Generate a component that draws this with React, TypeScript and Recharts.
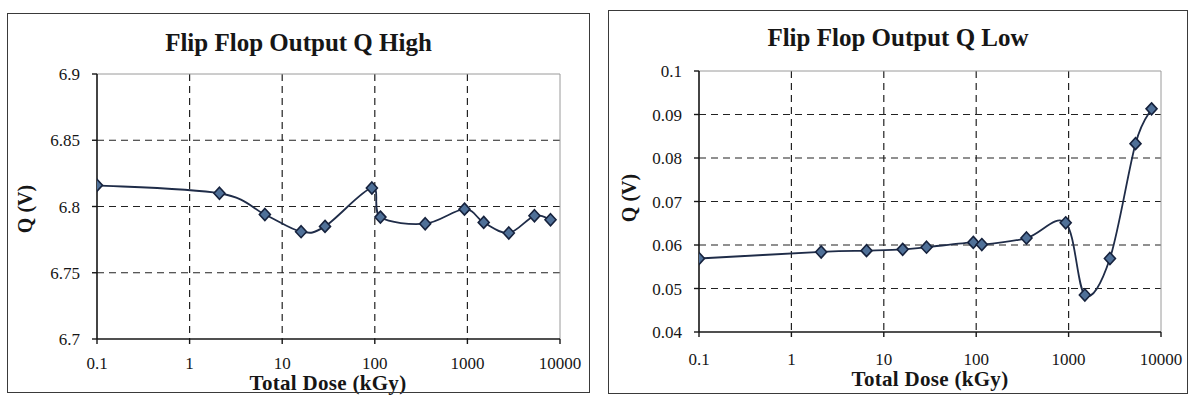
import React from 'react';
import { LineChart, Line, XAxis, YAxis, CartesianGrid, ReferenceLine } from 'recharts';

// Total dose steps (kGy) shared by both measurements
const doses = [0.1, 2.1, 6.5, 16, 29, 93, 115, 350, 930, 1500, 2800, 5300, 7900];
// Flip-flop Q output when latched high (V)
const qHigh = [6.816, 6.81, 6.794, 6.781, 6.785, 6.814, 6.792, 6.787, 6.798, 6.788, 6.78, 6.793, 6.79];
// Flip-flop Q output when latched low (V)
const qLow = [0.0569, 0.0584, 0.0587, 0.059, 0.0595, 0.0606, 0.0601, 0.0616, 0.0651, 0.0485, 0.0569, 0.0833, 0.0913];

const doseTicks = [0.1, 1, 10, 100, 1000, 10000];
const highTicks = [6.7, 6.75, 6.8, 6.85, 6.9];
const lowTicks = [0.04, 0.05, 0.06, 0.07, 0.08, 0.09, 0.1];

const highData = doses.map((d, i) => ({ dose: d, q: qHigh[i] }));
const lowData = doses.map((d, i) => ({ dose: d, q: qLow[i] }));

const FONT = '"Liberation Serif", "Times New Roman", serif';
const INK = '#161616';
const LINE = '#1f2c48';

// Smoothed line through every point (Catmull-Rom segments as cubic Beziers)
const smoothCurve = (context: any) => {
  let pts: number[][] = [];
  return {
    areaStart() {},
    areaEnd() {},
    lineStart() {
      pts = [];
    },
    point(x: number, y: number) {
      pts.push([+x, +y]);
    },
    lineEnd() {
      const n = pts.length;
      if (!n) return;
      context.moveTo(pts[0][0], pts[0][1]);
      for (let i = 0; i < n - 1; i++) {
        const p0 = pts[Math.max(i - 1, 0)];
        const p1 = pts[i];
        const p2 = pts[i + 1];
        const p3 = pts[Math.min(i + 2, n - 1)];
        context.bezierCurveTo(
          p1[0] + (p2[0] - p0[0]) / 6,
          p1[1] + (p2[1] - p0[1]) / 6,
          p2[0] - (p3[0] - p1[0]) / 6,
          p2[1] - (p3[1] - p1[1]) / 6,
          p2[0],
          p2[1]
        );
      }
    },
  };
};

const diamond = (p: any) => {
  const { cx, cy, index } = p;
  if (cx == null || cy == null) return <g key={index} />;
  const w = 5.5;
  const h = 6;
  return (
    <path
      key={index}
      d={`M${cx},${cy - h}L${cx + w},${cy}L${cx},${cy + h}L${cx - w},${cy}Z`}
      fill="#4f7098"
      stroke="#16223d"
      strokeWidth={1.6}
    />
  );
};

// Axis tick labels in the serif face
const XTick = (p: any) => (
  <text
    x={p.x}
    y={p.y}
    dy="0.71em"
    textAnchor="middle"
    fill={INK}
    style={{ fontFamily: FONT, fontSize: 17 }}
  >
    {String(p.payload.value)}
  </text>
);

const YTick = (p: any) => (
  <text
    x={p.x}
    y={p.y}
    dy="0.355em"
    textAnchor="end"
    fill={INK}
    style={{ fontFamily: FONT, fontSize: 17 }}
  >
    {String(p.payload.value)}
  </text>
);

type PanelProps = {
  left: number;
  top: number;
  width: number;
  height: number;
  title: string;
  titleY: number;
  data: { dose: number; q: number }[];
  yTicks: number[];
  yDomain: [number, number];
  yAxisWidth: number;
  marginTop: number;
  marginRight: number;
  xAxisHeight: number;
  xTickMargin: number;
  yLabelX: number;
  yLabelY: number;
  xLabelY: number;
  xLabelX: number;
};

const Panel = (p: PanelProps) => {
  const innerY = p.yTicks.slice(1, -1);
  const innerX = doseTicks.slice(1, -1);
  return (
    <div
      style={{
        position: 'absolute',
        left: p.left,
        top: p.top,
        width: p.width,
        height: p.height,
        background: '#fff',
        fontFamily: FONT,
      }}
    >
      <LineChart
        width={p.width}
        height={p.height}
        data={p.data}
        margin={{ top: p.marginTop, right: p.marginRight, left: 0, bottom: 0 }}
      >
        <CartesianGrid
          stroke="#222"
          strokeWidth={1.2}
          strokeDasharray="7 5"
          horizontalValues={innerY}
          verticalValues={innerX}
        />
        <ReferenceLine y={p.yDomain[1]} stroke="#9a9a9a" strokeWidth={1} />
        <ReferenceLine x={10000} stroke="#9a9a9a" strokeWidth={1} />
        <XAxis
          dataKey="dose"
          type="number"
          scale="log"
          domain={[0.1, 10000]}
          ticks={doseTicks}
          allowDataOverflow
          height={p.xAxisHeight}
          tickSize={5}
          tickMargin={p.xTickMargin}
          axisLine={{ stroke: INK, strokeWidth: 1.6 }}
          tickLine={{ stroke: INK, strokeWidth: 1.4 }}
          tick={XTick}
        />
        <YAxis
          type="number"
          domain={p.yDomain}
          ticks={p.yTicks}
          allowDataOverflow
          width={p.yAxisWidth}
          tickSize={5}
          tickMargin={12}
          axisLine={{ stroke: INK, strokeWidth: 1.6 }}
          tickLine={{ stroke: INK, strokeWidth: 1.4 }}
          tick={YTick}
        />
        <Line
          dataKey="q"
          type={smoothCurve as any}
          stroke={LINE}
          strokeWidth={1.8}
          dot={diamond}
          activeDot={false}
          isAnimationActive={false}
        />
      </LineChart>
      <div
        style={{
          position: 'absolute',
          left: 0,
          top: p.titleY - 13,
          width: p.width,
          textAlign: 'center',
          fontFamily: FONT,
          fontWeight: 'bold',
          fontSize: 25,
          color: INK,
          lineHeight: '26px',
        }}
      >
        {p.title}
      </div>
      <div
        style={{
          position: 'absolute',
          left: p.xLabelX - 150,
          top: p.xLabelY - 10,
          width: 300,
          textAlign: 'center',
          fontFamily: FONT,
          fontWeight: 'bold',
          fontSize: 21,
          letterSpacing: 0.3,
          color: INK,
          lineHeight: '20px',
        }}
      >
        Total Dose (kGy)
      </div>
      <div
        style={{
          position: 'absolute',
          left: p.yLabelX - 40,
          top: p.yLabelY - 11,
          width: 80,
          textAlign: 'center',
          fontFamily: FONT,
          fontWeight: 'bold',
          fontSize: 20,
          color: INK,
          lineHeight: '22px',
          transform: 'rotate(-90deg)',
        }}
      >
        Q (V)
      </div>
      <div
        style={{
          position: 'absolute',
          inset: 0,
          border: '1.5px solid #3a3a3a',
          boxSizing: 'border-box',
          pointerEvents: 'none',
        }}
      />
    </div>
  );
};

export default function App() {
  return (
    <div
      style={{
        position: 'absolute',
        left: 0,
        top: 0,
        width: 1191,
        height: 398,
        background: '#fff',
        overflow: 'hidden',
      }}
    >
      <Panel
        left={7}
        top={13}
        width={583}
        height={380}
        title="Flip Flop Output Q High"
        titleY={30}
        data={highData}
        yTicks={highTicks}
        yDomain={[6.7, 6.9]}
        yAxisWidth={90}
        marginTop={61}
        marginRight={30}
        xAxisHeight={54}
        xTickMargin={13}
        yLabelX={18}
        yLabelY={196}
        xLabelX={321}
        xLabelY={370}
      />
      <Panel
        left={608}
        top={10}
        width={580}
        height={384}
        title="Flip Flop Output Q Low"
        titleY={28}
        data={lowData}
        yTicks={lowTicks}
        yDomain={[0.04, 0.1]}
        yAxisWidth={91}
        marginTop={61}
        marginRight={27}
        xAxisHeight={62}
        xTickMargin={16}
        yLabelX={21}
        yLabelY={188}
        xLabelX={322}
        xLabelY={369}
      />
    </div>
  );
}
